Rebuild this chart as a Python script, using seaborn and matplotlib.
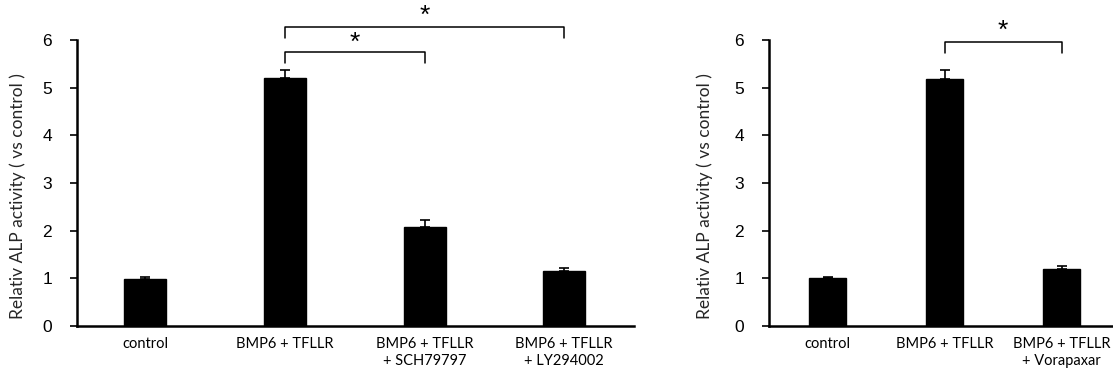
import numpy as np
import pandas as pd
import matplotlib
matplotlib.use("Agg")
import matplotlib.pyplot as plt
import seaborn as sns

# ---- data ----
left_categories = ["control", "BMP6 + TFLLR", "BMP6 + TFLLR\n+ SCH79797", "BMP6 + TFLLR\n+ LY294002"]
left_values = [0.99, 5.20, 2.08, 1.16]
left_errors = [0.03, 0.18, 0.15, 0.06]

right_categories = ["control", "BMP6 + TFLLR", "BMP6 + TFLLR\n+ Vorapaxar"]
right_values = [1.00, 5.19, 1.19]
right_errors = [0.03, 0.18, 0.07]

y_ticks = [0, 1, 2, 3, 4, 5, 6]
y_label = "Relativ ALP activity ( vs control )"

# significance brackets: (start index, end index, top y, leg bottom y, star y)
left_brackets = [(1, 3, 6.27, 6.04, 6.50), (1, 2, 5.75, 5.52, 5.94)]
right_brackets = [(1, 2, 5.96, 5.73, 6.20)]

sns.set_theme(style="white")
plt.rcParams["font.family"] = ["Liberation Sans", "DejaVu Sans"]

fig = plt.figure(figsize=(11.13, 3.71), dpi=100)
ax1 = fig.add_axes([0.0692, 0.1213, 0.5004, 0.7709])
ax2 = fig.add_axes([0.6910, 0.1213, 0.3090, 0.7709])


def draw(ax, cats, vals, errs, brackets, width, xlim, label_x):
    df = pd.DataFrame({"cat": cats, "val": vals})
    sns.barplot(data=df, x="cat", y="val", ax=ax, color="black", width=width,
                edgecolor="black", saturation=1)
    x = np.arange(len(cats))
    ax.errorbar(x, vals, yerr=[np.zeros(len(errs)), errs], fmt="none",
                ecolor="black", elinewidth=1.2, capsize=3.5, capthick=1.2)
    ax.set_xlim(*xlim)
    ax.set_ylim(0, 6)
    ax.set_yticks(y_ticks)
    ax.set_yticklabels([str(t) for t in y_ticks], fontsize=12.5)
    ax.set_xlabel("")
    ax.set_ylabel(y_label, fontsize=12.5, family=["Lato", "DejaVu Sans"])
    ax.yaxis.label.set_va("center")
    ax.yaxis.set_label_coords(label_x, 0.455)
    ax.set_xticks(x)
    ax.set_xticklabels(cats, fontsize=10.5, family=["Lato", "DejaVu Sans"],
                       linespacing=1.3)
    for s in ["top", "right"]:
        ax.spines[s].set_visible(False)
    for s in ["left", "bottom"]:
        ax.spines[s].set_color("black")
        ax.spines[s].set_linewidth(1.8)
    ax.tick_params(axis="y", which="both", left=True, length=5, width=1.2,
                   color="black", direction="out", pad=13, labelcolor="black")
    ax.tick_params(axis="x", bottom=False, pad=2, labelcolor="black")
    for (a, b, top, leg, star) in brackets:
        ax.plot([a, a, b, b], [leg, top, top, leg], color="black", lw=1.1,
                clip_on=False)
        ax.text((a + b) / 2, star, "*", ha="center", va="center", fontsize=19,
                color="black", clip_on=False)


draw(ax1, left_categories, left_values, left_errors, left_brackets, 0.30, (-0.49, 3.5), -0.106)
draw(ax2, right_categories, right_values, right_errors, right_brackets, 0.31, (-0.5, 2.44), -0.186)

fig.savefig("out.png", dpi=100)
